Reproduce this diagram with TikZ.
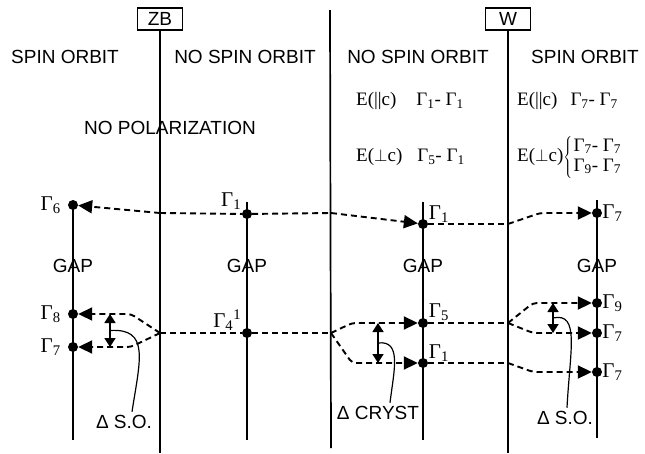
\documentclass[tikz,border=0pt]{standalone}
\usepackage{fontspec}
\setmainfont{Liberation Sans}
\newfontfamily\serif{Liberation Serif}
\usetikzlibrary{arrows.meta, positioning}

\newcommand{\G}[1]{{\serif Γ\textsubscript{#1}}}

\begin{document}
\begin{tikzpicture}[x=1pt, y=-1pt, >={Triangle[length=14pt,width=13pt]},
    font=\fontsize{19}{22}\selectfont,
    level/.style={line width=2pt},
    divider/.style={line width=1.7pt},
    trans/.style={line width=1.9pt, dash pattern=on 6pt off 4pt, rounded corners=4pt},
    split/.style={line width=1.7pt, {Triangle[length=9pt,width=11pt]}-{Triangle[length=9pt,width=11pt]}},
    pointer/.style={line width=1.2pt},
    dot/.style={circle, fill, inner sep=0pt, minimum size=10pt},
    lab/.style={font=\fontsize{21}{23}\selectfont\serif, inner sep=1pt},
    rule/.style={font=\fontsize{19}{20}\selectfont\serif, anchor=west, inner sep=0pt},
    tag/.style={draw, line width=1.4pt, inner sep=0pt, minimum width=45pt, minimum height=22pt}]
    \useasboundingbox (0,0) rectangle (645,453);

    % structure boxes and dividers
    \node[tag] (zb) at (160,19) {ZB};
    \node[tag] (w)  at (508,19) {W};
    \coordinate (zbbot)  at (160,453);
    \coordinate (midtop) at (330,10);
    \coordinate (midbot) at (331,448);
    \coordinate (wbot)   at (508,453);
    \draw[divider] (zb) -- (zbbot);
    \draw[divider] (midtop) -- (midbot);
    \draw[divider] (w) -- (wbot);

    % energy axes
    \foreach \n/\x/\t/\b in {a/73/205/440, b/247/202/440, c/423/202/440, d/597/200/438} {
      \coordinate (\n top) at (\x,\t);
      \coordinate (\n bot) at (\x,\b);
      \draw[level] (\n top) -- (\n bot);
      \node at (\x,266) {GAP};
    }

    % headings
    \node at (65,57)  {SPIN ORBIT};
    \node at (245,57) {NO SPIN ORBIT};
    \node at (418,57) {NO SPIN ORBIT};
    \node at (585,57) {SPIN ORBIT};
    \node at (170,128) {NO POLARIZATION};
    \node[rule] (epar1)  at (356,101) {E(\textbar\textbar c)\hspace{20pt}Γ\textsubscript{1}- Γ\textsubscript{1}};
    \node[rule] (eperp1) at (356,157) {E($\perp$c)\hspace{15pt}Γ\textsubscript{5}- Γ\textsubscript{1}};
    \node[rule] (epar2)  at (517,101) {E(\textbar\textbar c)\hspace{13pt}Γ\textsubscript{7}- Γ\textsubscript{7}};
    \node[rule] (eperp2) at (517,157) {E($\perp$c)$\left\{\hspace{1.5pt}\begin{tabular}{@{}l@{}}Γ\textsubscript{7}- Γ\textsubscript{7}\\Γ\textsubscript{9}- Γ\textsubscript{7}\end{tabular}\right.$};

    % levels
    \node[dot] (a6)  at (73,205)  {};
    \node[dot] (a8)  at (73,314)  {};
    \node[dot] (a7)  at (73,347)  {};
    \node[dot] (b1)  at (247,214) {};
    \node[dot] (b4)  at (247,333) {};
    \node[dot] (c1)  at (423,224) {};
    \node[dot] (c5)  at (423,323) {};
    \node[dot] (c1l) at (423,363) {};
    \node[dot] (d7)  at (597,213) {};
    \node[dot] (d9)  at (597,303) {};
    \node[dot] (d7m) at (597,333) {};
    \node[dot] (d7l) at (597,372) {};
    \node[lab, left=6pt of a6] {\G{6}};
    \node[lab, left=6pt of a8] {\G{8}};
    \node[lab, left=6pt of a7] {\G{7}};
    \node[lab, above left=0pt and 1pt of b1] {\G{1}};
    \node[lab, above left=-2pt and 1pt of b4] {{\serif Γ\textsubscript{4}\textsuperscript{1}}};
    \node[lab, above right=-3pt and 1pt of c1] {\G{1}};
    \node[lab, above right=-3pt and 1pt of c5] {\G{5}};
    \node[lab, above right=-3pt and 1pt of c1l] {\G{1}};
    \node[lab, right=-1pt of d7]  {\G{7}};
    \node[lab, right=-1pt of d9]  {\G{9}};
    \node[lab, right=-1pt of d7m] {\G{7}};
    \node[lab, right=-1pt of d7l] {\G{7}};

    % conduction band
    \coordinate (p1) at (160,213);
    \coordinate (q1) at (331,213);
    \coordinate (r1) at (508,224);
    \draw[trans, ->] (p1) -- (a6);
    \draw[trans] (p1) -- (b1) -- (q1);
    \draw[trans, ->] (q1) -- (c1);
    \draw[trans] (c1) -- (r1);
    \draw[trans, ->] (r1) -- ([xshift=-57pt]d7.center) -- (d7);

    % valence band
    \coordinate (p2) at (160,333);
    \coordinate (q2) at (331,333);
    \coordinate (r2) at (508,323);
    \coordinate (r3) at (508,363);
    \draw[trans, ->] (p2) -- ([xshift=58pt]a8.center) -- (a8);
    \draw[trans, ->] (p2) -- ([xshift=58pt]a7.center) -- (a7);
    \draw[trans] (p2) -- (b4) -- (q2);
    \draw[trans, ->] (q2) -- ([xshift=-71pt]c5.center) -- (c5);
    \draw[trans, ->] (q2) -- ([xshift=-71pt]c1l.center) -- (c1l);
    \draw[trans] (c5) -- (r2);
    \draw[trans] (c1l) -- (r3);
    \draw[trans, ->] (r2) -- ([xshift=-64pt]d9.center) -- (d9);
    \draw[trans, ->] (r2) -- ([xshift=-64pt]d7m.center) -- (d7m);
    \draw[trans, ->] (r3) -- ([xshift=-64pt]d7l.center) -- (d7l);

    % splittings
    \draw[split] ([xshift=37pt]a8.center) -- coordinate (soa) ([xshift=37pt]a7.center);
    \draw[split] ([xshift=-45pt]c5.center) -- coordinate (cry) ([xshift=-45pt]c1l.center);
    \draw[split] ([xshift=-44pt]d9.center) -- coordinate (sod) ([xshift=-44pt]d7m.center);
    \node (soalab) at (124,422) {Δ S.O.};
    \node (crylab) at (378,413) {Δ CRYST};
    \node (sodlab) at (565,418) {Δ S.O.};
    \draw[pointer] (soa) .. controls (150,328) and (140,360) .. ([xshift=8pt]soalab.north);
    \draw[pointer] (cry) .. controls (402,340) and (394,370) .. ([xshift=12pt]crylab.north);
    \draw[pointer] (sod) .. controls (580,312) and (570,350) .. ([xshift=2pt]sodlab.north);
\end{tikzpicture}
\end{document}
